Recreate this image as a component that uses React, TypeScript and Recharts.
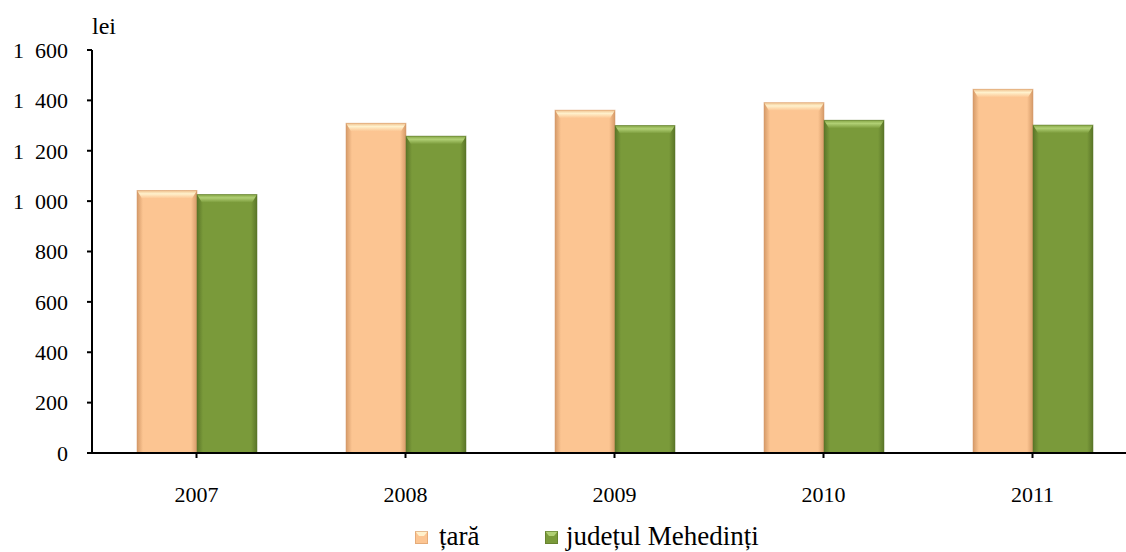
import React from 'react';
import { BarChart, Bar, XAxis, YAxis } from 'recharts';

const years = ['2007', '2008', '2009', '2010', '2011'];
const taraValues = [1042, 1309, 1361, 1391, 1444];
const mehedintiValues = [1026, 1258, 1300, 1321, 1302];
const yTicks = [0, 200, 400, 600, 800, 1000, 1200, 1400, 1600];
const seriesNames = ['țară', 'județul Mehedinți'];
const unitLabel = 'lei';

const data = years.map((y, i) => ({ year: y, tara: taraValues[i], mehedinti: mehedintiValues[i] }));

const FONT = "'Liberation Serif'";

const palettes: Record<string, { edge: string; mid: string; top: string; topEdge: string }> = {
  orange: { edge: '#D59A68', mid: '#FCC592', top: '#FFF1CC', topEdge: '#F0C28E' },
  green: { edge: '#5A7528', mid: '#7A9A3A', top: '#B0CF74', topEdge: '#86A646' },
};

const BevelBar = (kind: string) => (props: any) => {
  const { x, y, width, height } = props;
  if (height == null || height <= 0) return null;
  const p = palettes[kind];
  const b = Math.min(8, height / 2);
  return (
    <g>
      <rect x={x} y={y} width={width} height={height} fill={`url(#grad-${kind})`} />
      <polygon
        points={`${x},${y} ${x + width},${y} ${x + width - 5},${y + b} ${x + 5},${y + b}`}
        fill={`url(#top-${kind})`}
      />
      <rect x={x} y={y} width={width} height={height} fill="none" stroke={p.edge} strokeOpacity={0.5} strokeWidth={1} />
    </g>
  );
};

const fmt = (v: number) => {
  if (v >= 1000) {
    const s = String(v);
    return s.slice(0, s.length - 3) + '\u2002' + s.slice(s.length - 3);
  }
  return String(v);
};

const LegendIcon = ({ kind, left }: { kind: string; left: number }) => {
  const p = palettes[kind];
  return (
    <svg width={13} height={13} style={{ position: 'absolute', left, top: 531 }}>
      <rect x={0} y={0} width={13} height={13} fill={p.mid} />
      <polygon points="0,0 13,0 9,5 4,5" fill={p.top} />
      <rect x={0.5} y={0.5} width={12} height={12} fill="none" stroke={p.edge} strokeOpacity={0.6} />
    </svg>
  );
};

export default function App() {
  return (
    <div style={{ position: 'absolute', left: 0, top: 0, width: 1126, height: 552, overflow: 'hidden', background: '#fff', fontFamily: FONT }}>
      <BarChart
        width={1160}
        height={552}
        data={data}
        margin={{ top: 50, right: 23, bottom: 39, left: 0 }}
        barGap={0}
        barSize={60}
        style={{ fontFamily: FONT }}
      >
        <defs>
          {Object.keys(palettes).map((k) => (
            <React.Fragment key={k}>
              <linearGradient id={`grad-${k}`} x1="0" y1="0" x2="1" y2="0">
                <stop offset="0%" stopColor={palettes[k].edge} />
                <stop offset="10%" stopColor={palettes[k].mid} />
                <stop offset="90%" stopColor={palettes[k].mid} />
                <stop offset="100%" stopColor={palettes[k].edge} />
              </linearGradient>
              <linearGradient id={`top-${k}`} x1="0" y1="0" x2="0" y2="1">
                <stop offset="0%" stopColor={palettes[k].topEdge} />
                <stop offset="40%" stopColor={palettes[k].top} />
                <stop offset="100%" stopColor={palettes[k].mid} />
              </linearGradient>
            </React.Fragment>
          ))}
        </defs>
        <XAxis
          dataKey="year"
          height={60}
          axisLine={{ stroke: '#000', strokeWidth: 2 }}
          tickLine={{ stroke: '#000', strokeWidth: 2 }}
          tickSize={5}
          tickMargin={28}
          interval={0}
          tick={{ fill: '#000', fontSize: 22, fontFamily: FONT }}
          padding={{ left: 0, right: 0 }}
        />
        <YAxis
          width={92}
          domain={[0, 1600]}
          ticks={yTicks}
          interval={0}
          tickFormatter={fmt}
          axisLine={{ stroke: '#000', strokeWidth: 2 }}
          tickLine={{ stroke: '#000', strokeWidth: 2 }}
          tickSize={5}
          tickMargin={19}
          tick={{ fill: '#000', fontSize: 22, fontFamily: FONT }}
        />
        <Bar dataKey="tara" name={seriesNames[0]} isAnimationActive={false} shape={BevelBar('orange')} />
        <Bar dataKey="mehedinti" name={seriesNames[1]} isAnimationActive={false} shape={BevelBar('green')} />
      </BarChart>
      <div style={{ position: 'absolute', left: 92, top: 14, fontSize: 24, lineHeight: '24px', color: '#000', fontFamily: FONT }}>{unitLabel}</div>
      <LegendIcon kind="orange" left={415} />
      <div style={{ position: 'absolute', left: 439, top: 523, fontSize: 27, lineHeight: '27px', color: '#000', fontFamily: FONT, whiteSpace: 'nowrap' }}>{seriesNames[0]}</div>
      <LegendIcon kind="green" left={545} />
      <div style={{ position: 'absolute', left: 566, top: 523, fontSize: 27, lineHeight: '27px', color: '#000', fontFamily: FONT, whiteSpace: 'nowrap' }}>{seriesNames[1]}</div>
    </div>
  );
}
